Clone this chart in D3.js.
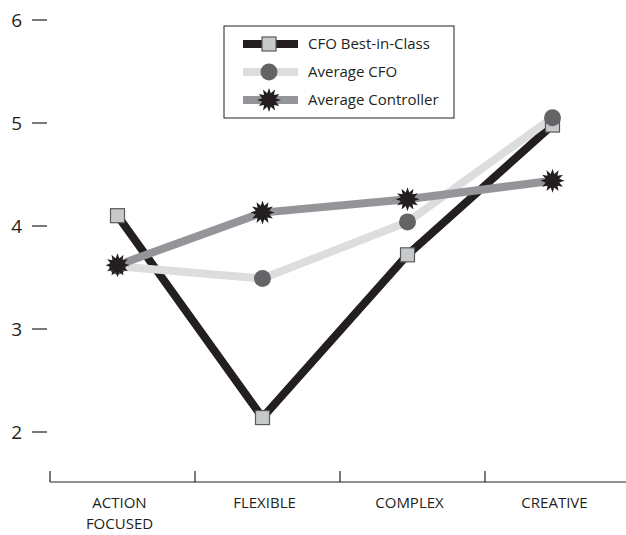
<!DOCTYPE html>
<html lang="en">
<head>
    <meta charset="UTF-8">
    <title>CFO vs Controller profile</title>
    <script src="https://d3js.org/d3.v7.min.js"></script>
    <style>
        body { margin: 0; background: #fff; font-family: "Open Sans", sans-serif; }
        .tick-label { font-size: 19px; fill: #231f20; }
        .cat-label { font-size: 15px; fill: #231f20; }
        .legend-label { font-size: 15px; fill: #231f20; }
    </style>
</head>
<body>
<svg id="chart" width="626" height="535"></svg>
<script>
    // categories and series values
    const categories = ["ACTION FOCUSED", "FLEXIBLE", "COMPLEX", "CREATIVE"];
    const bestInClass = [4.1, 2.14, 3.72, 4.98];
    const averageCFO = [3.61, 3.49, 4.04, 5.05];
    const averageController = [3.62, 4.13, 4.26, 4.44];
    const yTicks = [2, 3, 4, 5, 6];

    const series = [
        { name: "CFO Best-in-Class", values: bestInClass, color: "#231f20", marker: "square" },
        { name: "Average CFO", values: averageCFO, color: "#dcddde", marker: "circle" },
        { name: "Average Controller", values: averageController, color: "#939598", marker: "star" }
    ];

    const svg = d3.select("#chart");

    const x = d3.scaleBand().domain(categories).range([50, 630]);
    const y = d3.scaleLinear().domain([2, 6]).range([432, 20]);

    // y axis: only dashes and numbers
    const yAxis = svg.append("g");
    yAxis.selectAll("line").data(yTicks).enter().append("line")
        .attr("x1", 32).attr("x2", 47)
        .attr("y1", d => y(d)).attr("y2", d => y(d))
        .attr("stroke", "#231f20").attr("stroke-width", 1.2);
    yAxis.selectAll("text").data(yTicks).enter().append("text")
        .attr("class", "tick-label")
        .attr("x", 22).attr("y", d => y(d))
        .attr("text-anchor", "end")
        .attr("dy", "0.35em")
        .text(d => d);

    // x axis: baseline with ticks at the band edges
    const axisY = 482;
    svg.append("line")
        .attr("x1", 50).attr("x2", 626)
        .attr("y1", axisY).attr("y2", axisY)
        .attr("stroke", "#231f20").attr("stroke-width", 1.2);
    svg.selectAll(".xtick").data(categories).enter().append("line")
        .attr("class", "xtick")
        .attr("x1", d => x(d)).attr("x2", d => x(d))
        .attr("y1", axisY - 11).attr("y2", axisY)
        .attr("stroke", "#231f20").attr("stroke-width", 1.2);
    const catText = svg.selectAll(".cat-label").data(categories).enter().append("text")
        .attr("class", "cat-label")
        .attr("text-anchor", "middle")
        .attr("y", 508);
    catText.each(function(d) {
        const words = d === "ACTION FOCUSED" ? ["ACTION", "FOCUSED"] : [d];
        const t = d3.select(this);
        words.forEach((w, i) => {
            t.append("tspan")
                .attr("x", x(d) + x.bandwidth() / 2 - 3)
                .attr("dy", i === 0 ? 0 : 21)
                .text(w);
        });
    });

    const cx = d => x(d) + x.bandwidth() / 2 - 5;

    function starPath(r1, r2, n) {
        const pts = [];
        for (let i = 0; i < n * 2; i++) {
            const r = i % 2 === 0 ? r1 : r2;
            const a = Math.PI * i / n - Math.PI / 2;
            pts.push([r * Math.cos(a), r * Math.sin(a)]);
        }
        return "M" + pts.map(p => p.join(",")).join("L") + "Z";
    }

    function drawMarker(g, type, px, py) {
        if (type === "square") {
            g.append("rect")
                .attr("x", px - 7).attr("y", py - 7)
                .attr("width", 14).attr("height", 14)
                .attr("fill", "#c8c9cb").attr("stroke", "#58595b").attr("stroke-width", 1.2);
        } else if (type === "circle") {
            g.append("circle")
                .attr("cx", px).attr("cy", py).attr("r", 8.5)
                .attr("fill", "#636466");
        } else {
            g.append("path")
                .attr("d", starPath(12, 7, 12))
                .attr("transform", `translate(${px},${py})`)
                .attr("fill", "#231f20");
        }
    }

    const line = d3.line().x((d, i) => cx(categories[i])).y(d => y(d));

    series.forEach(s => {
        svg.append("path")
            .datum(s.values)
            .attr("d", line)
            .attr("fill", "none")
            .attr("stroke", s.color)
            .attr("stroke-width", 8);
    });
    // markers on top of all lines, drawn per series
    series.forEach(s => {
        const g = svg.append("g");
        s.values.forEach((v, i) => drawMarker(g, s.marker, cx(categories[i]), y(v)));
    });

    // legend
    const legend = svg.append("g").attr("transform", "translate(224,26)");
    legend.append("rect")
        .attr("width", 230).attr("height", 92)
        .attr("fill", "#fff").attr("stroke", "#231f20").attr("stroke-width", 1);
    series.forEach((s, i) => {
        const ly = 18 + i * 28;
        legend.append("line")
            .attr("x1", 19).attr("x2", 74)
            .attr("y1", ly).attr("y2", ly)
            .attr("stroke", s.color).attr("stroke-width", 8);
        drawMarker(legend, s.marker, 45, ly);
        legend.append("text")
            .attr("class", "legend-label")
            .attr("x", 84).attr("y", ly)
            .attr("dy", "0.35em")
            .text(s.name);
    });
</script>
</body>
</html>
